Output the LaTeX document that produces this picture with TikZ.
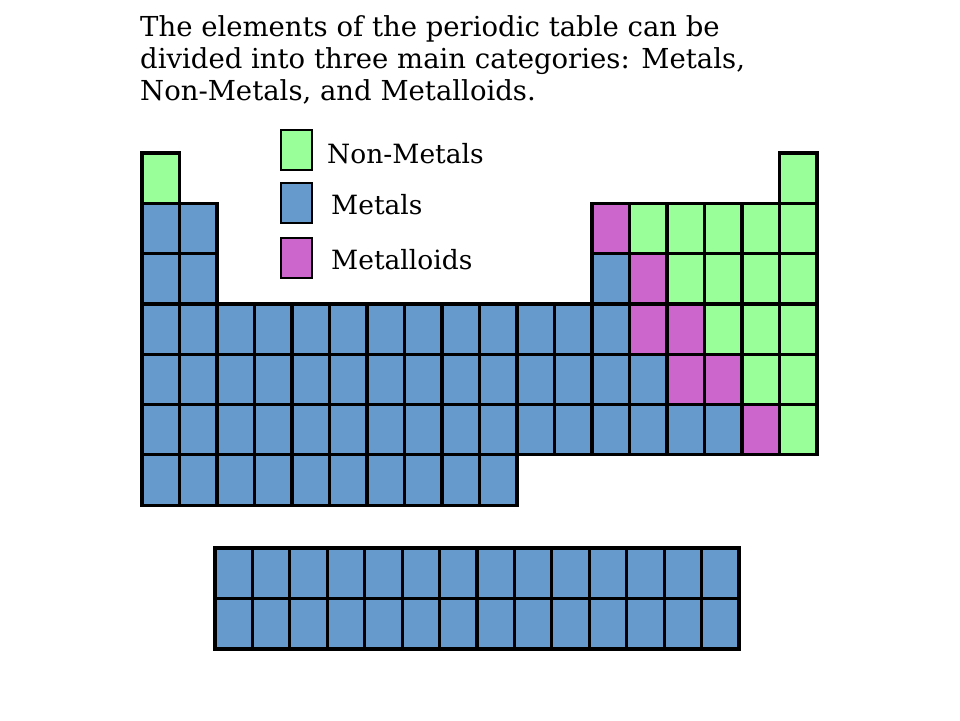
\documentclass[tikz,border=0pt]{standalone}
\usepackage{fontspec}
\setmainfont{DejaVu Serif}
\definecolor{nmgreen}{HTML}{99FF99}
\definecolor{mtblue}{HTML}{6699CC}
\definecolor{mdpink}{HTML}{CC66CC}
\newcommand\pcell[3]{\filldraw[cellst,fill=#3] ({142+(#1-1)*37.5},{-153-(#2-1)*50.3}) rectangle ++(37.5,-50.3);}
\newcommand\lcell[2]{\filldraw[cellst,fill=mtblue] ({215+(#1-1)*37.43},{-548-(#2-1)*50.5}) rectangle ++(37.43,-50.5);}
\begin{document}
\begin{tikzpicture}[x=1pt,y=1pt,
  cellst/.style={draw=black,line width=3.2pt,line join=miter},
  titlest/.style={anchor=base west,inner sep=0pt,font=\fontsize{27.5}{32}\selectfont},
  legst/.style={anchor=base west,inner sep=0pt,font=\fontsize{26.5}{32}\selectfont},
  keyst/.style={draw=black,line width=2pt}]
\useasboundingbox[fill=white] (0,0) rectangle (960,-720);
% title
\node[titlest] (t1) at (140,-36) {The elements of the periodic table can be};
\node[titlest] (t2) at (140,-68) {divided into three main categories: Metals,};
\node[titlest] (t3) at (140,-100) {Non-Metals, and Metalloids.};
% legend
\filldraw[keyst,fill=nmgreen] (281,-130) rectangle (312,-170);
\filldraw[keyst,fill=mtblue] (281,-183) rectangle (312,-223);
\filldraw[keyst,fill=mdpink] (281,-238) rectangle (312,-278);
\node[legst] (l1) at (327,-163) {Non-Metals};
\node[legst] (l2) at (331,-214) {Metals};
\node[legst] (l3) at (331,-269) {Metalloids};
% row 1
\pcell{1}{1}{nmgreen}\pcell{18}{1}{nmgreen}
% row 2
\foreach \c in {1,2} {\pcell{\c}{2}{mtblue}}
\pcell{13}{2}{mdpink}
\foreach \c in {14,...,18} {\pcell{\c}{2}{nmgreen}}
% row 3
\foreach \c in {1,2,13} {\pcell{\c}{3}{mtblue}}
\pcell{14}{3}{mdpink}
\foreach \c in {15,...,18} {\pcell{\c}{3}{nmgreen}}
% row 4
\foreach \c in {1,...,13} {\pcell{\c}{4}{mtblue}}
\foreach \c in {14,15} {\pcell{\c}{4}{mdpink}}
\foreach \c in {16,17,18} {\pcell{\c}{4}{nmgreen}}
% row 5
\foreach \c in {1,...,14} {\pcell{\c}{5}{mtblue}}
\foreach \c in {15,16} {\pcell{\c}{5}{mdpink}}
\foreach \c in {17,18} {\pcell{\c}{5}{nmgreen}}
% row 6
\foreach \c in {1,...,16} {\pcell{\c}{6}{mtblue}}
\pcell{17}{6}{mdpink}
\pcell{18}{6}{nmgreen}
% row 7
\foreach \c in {1,...,10} {\pcell{\c}{7}{mtblue}}
% lanthanides / actinides
\foreach \r in {1,2} {\foreach \c in {1,...,14} {\lcell{\c}{\r}}}
\end{tikzpicture}
\end{document}
